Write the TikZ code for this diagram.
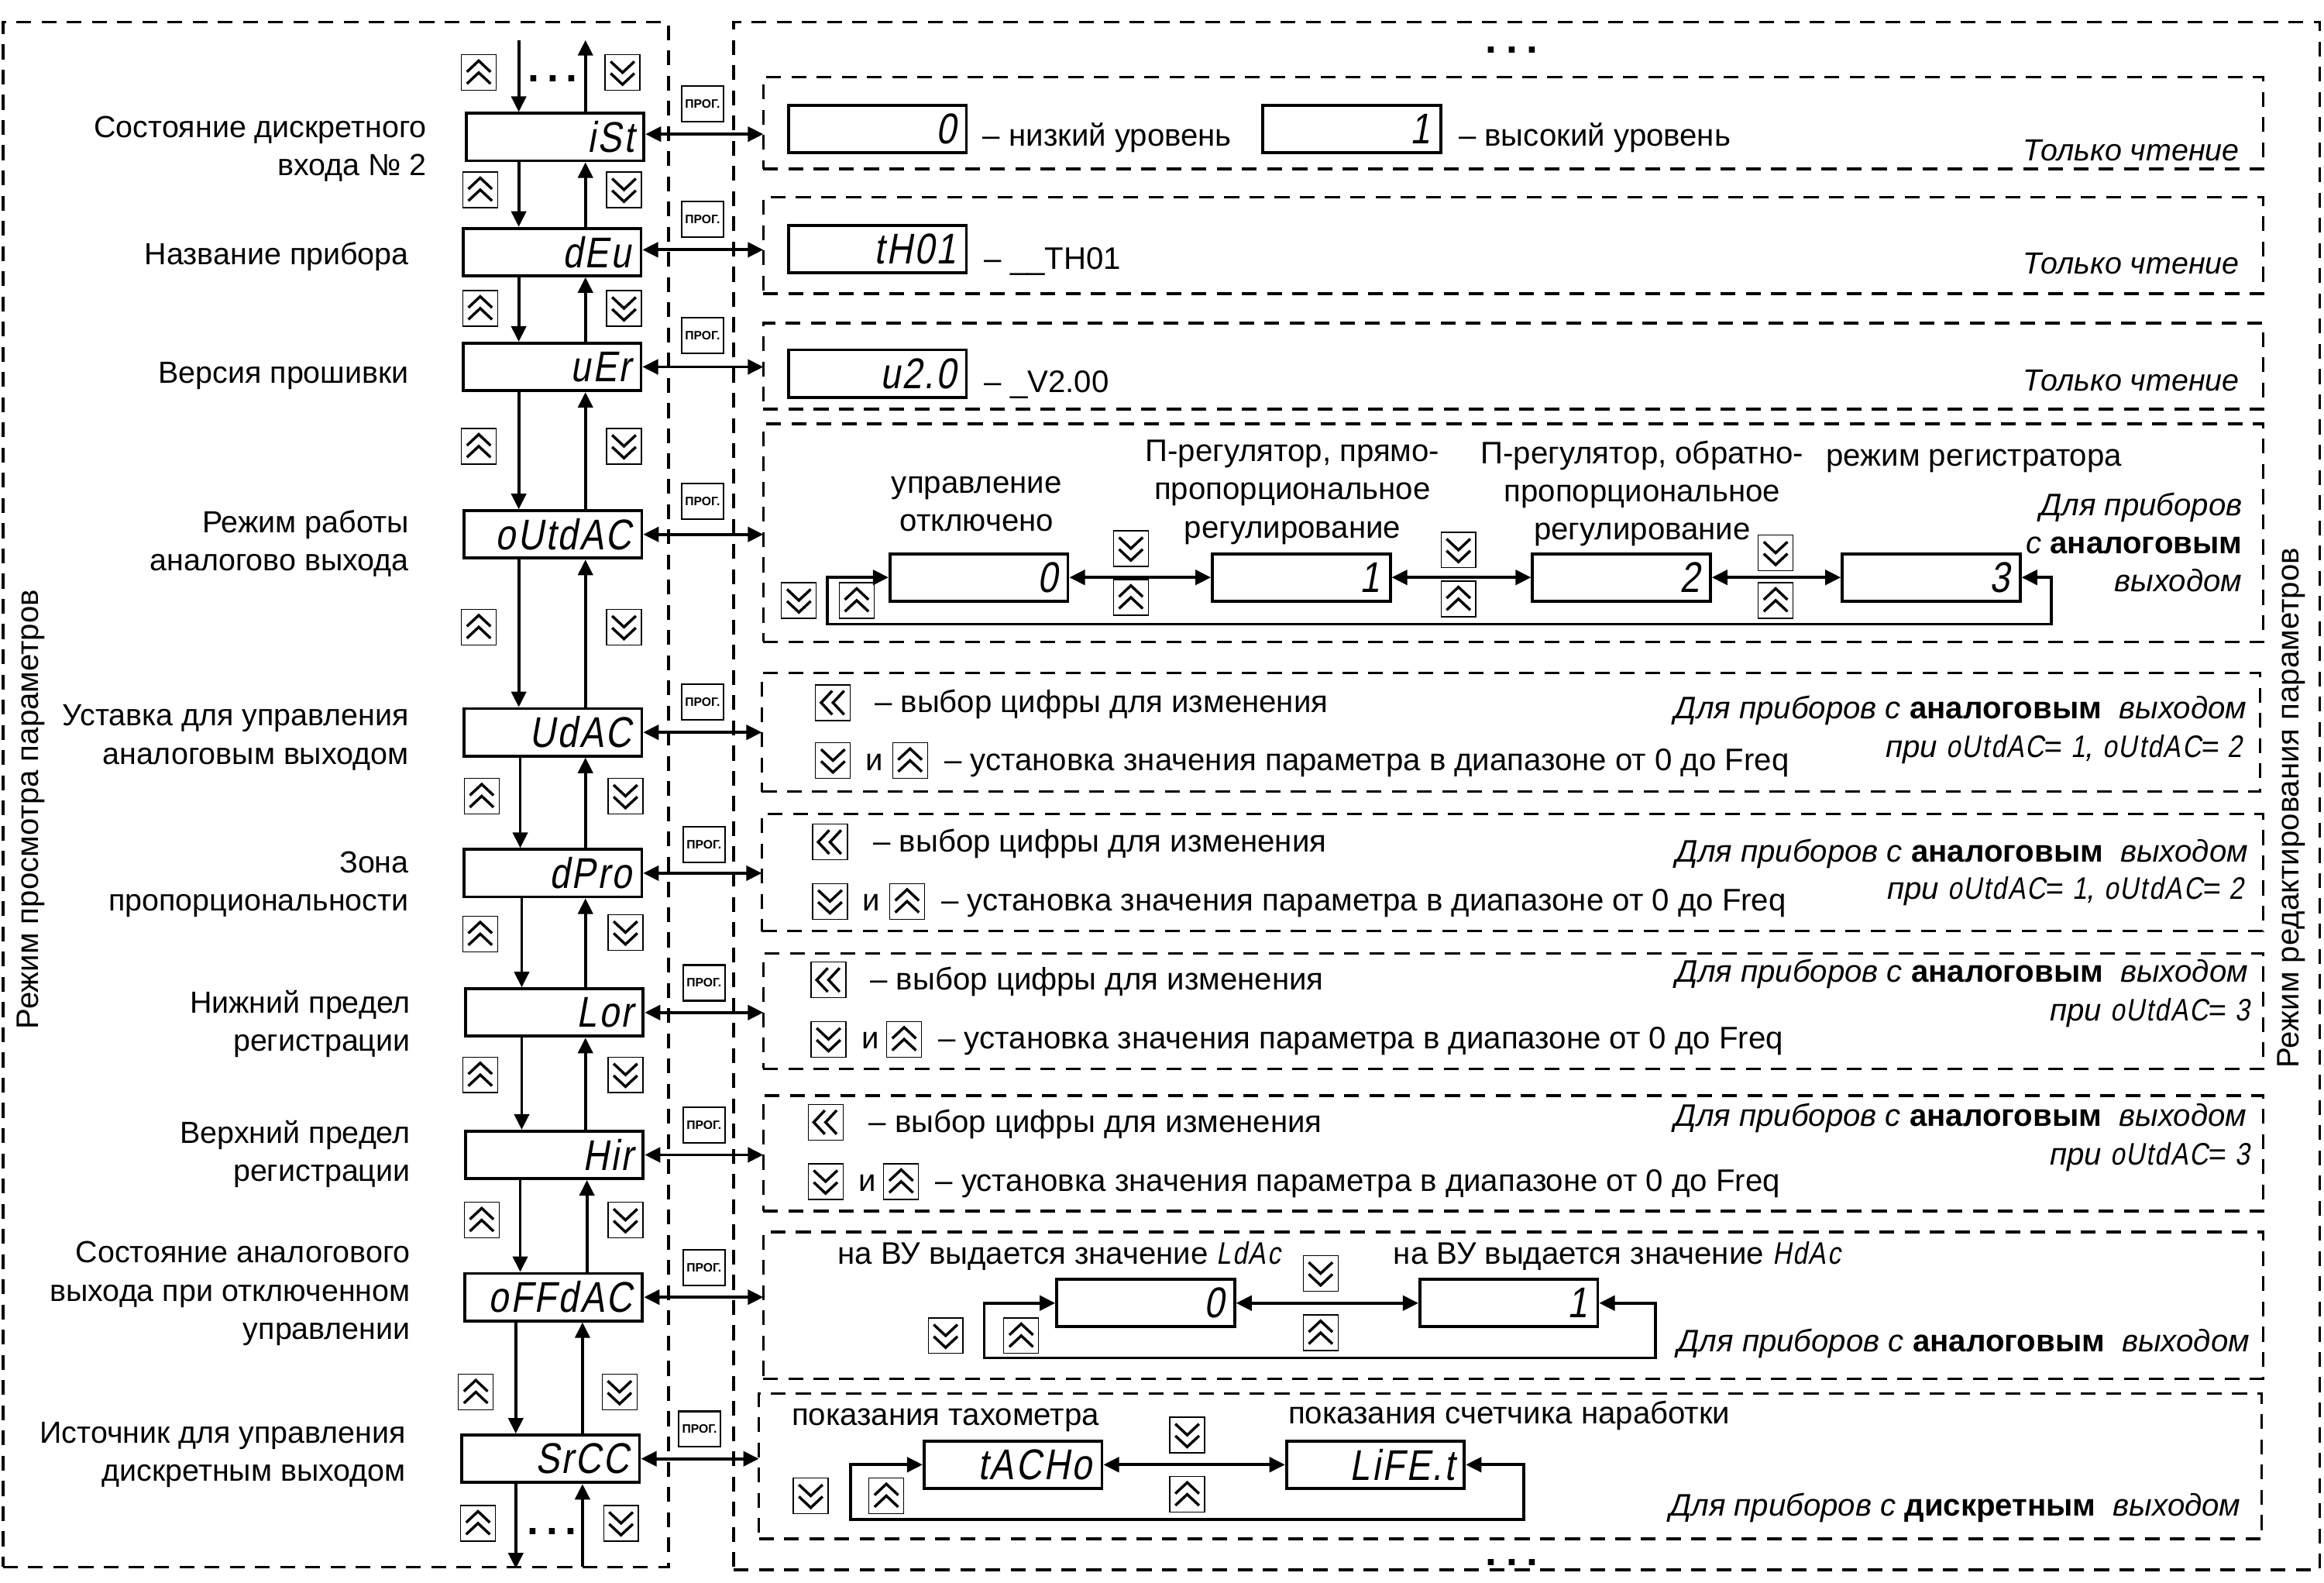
\documentclass[tikz,border=0pt]{standalone}
\usepackage{fontspec}
\setmainfont{Liberation Sans}
\newfontfamily\lcdf[FakeStretch=.83,FakeSlant=.18,LetterSpace=5]{Liberation Sans}
\usetikzlibrary{arrows.meta,fit}
\newcommand\lcdi[1]{{\lcdf\fontsize{21}{21}\selectfont #1}}
\newcommand\txt{\fontsize{21}{25.7}\selectfont}
\newcommand\txl{\fontsize{20.6}{25.7}\selectfont}
\tikzset{
  bigtip/.tip={Triangle[width=10pt,length=10.5pt]},
  arr/.style={line width=2pt,-{bigtip}},
  arrb/.style={line width=2pt,{bigtip}-{bigtip}},
  dashframe/.style={draw,line width=1.8pt,dash pattern=on 10pt off 7pt,inner sep=0pt,outer sep=0pt},
  disp/.style={draw,line width=2pt,minimum width=120pt,minimum height=32pt,text width=106pt,align=flush right,inner sep=0pt,font=\lcdf\fontsize{29}{29}\selectfont},
  keybase/.style={draw,line width=.7pt,minimum width=23.5pt,minimum height=24pt,inner sep=0pt},
  chev/.style={line width=1.8pt,miter limit=10},
  kup/.style={keybase,path picture={\begin{scope}[shift={(path picture bounding box.center)}]
     \draw[chev] (-8,-0.5)--(0,-8)--(8,-0.5); \draw[chev] (-8,7.5)--(0,0)--(8,7.5);\end{scope}}},
  kdn/.style={keybase,path picture={\begin{scope}[shift={(path picture bounding box.center)}]
     \draw[chev] (-8,0.5)--(0,8)--(8,0.5); \draw[chev] (-8,-7.5)--(0,0)--(8,-7.5);\end{scope}}},
  klf/.style={keybase,path picture={\begin{scope}[shift={(path picture bounding box.center)}]
     \draw[chev] (-0.5,-8)--(-8,0)--(-0.5,8); \draw[chev] (7.5,-8)--(0,0)--(7.5,8);\end{scope}}},
  prog/.style={draw,line width=1.1pt,minimum width=28pt,minimum height=24pt,inner sep=0pt,font=\bfseries\fontsize{8.2}{9}\selectfont},
  lb/.style={inner sep=0pt,font=\txt,anchor=mid west,yshift=-4pt},
  lbr/.style={inner sep=0pt,font=\txt,anchor=mid east,yshift=-4pt},
  lbq/.style={inner sep=0pt,font=\txl,anchor=mid east,yshift=-4pt},
  lbm/.style={inner sep=0pt,font=\txt,anchor=center,align=center,yshift=-1pt},
  lbe/.style={inner sep=0pt,font=\txl,anchor=east,align=right,yshift=-1.5pt},
  lbf/.style={inner sep=0pt,font=\txt,anchor=east,align=right},
  dots/.style={inner sep=0pt,anchor=base,font=\bfseries\fontsize{28}{28}\selectfont},
}
\newcommand\frm[5]{\node[dashframe,fit={(#2,#3)(#4,#5)}] (#1) {};}
\newcommand\vlink[4]{%
  \coordinate (xd) at (#3,0); \coordinate (xu) at (#4,0);
  \draw[arr] (xd |- #1.south) -- (xd |- #2.north);
  \draw[arr] (xu |- #2.north) -- (xu |- #1.south);}
\newcommand\anl[1]{\textit{Для приборов с} \textbf{#1}\ \ \textit{выходом}}
\begin{document}
\begin{tikzpicture}[x=1pt,y=-1pt]
\useasboundingbox (0,0) rectangle (1568,1067.3);
% outer frames
\frm{outL}{2}{15}{451}{1057}
\frm{outR}{495}{15}{1565}{1059}
\node[lbm,rotate=90,yshift=1pt] (rotL) at (22,545) {Режим просмотра параметров};
\node[lbm,rotate=90,yshift=1pt] (rotR) at (1547,544) {Режим редактирования параметров};
\node[dots] (dotsT) at (1020,36) {.\hspace{6pt}.\hspace{6pt}.};
\node[dots] (dotsB) at (1020,1056) {.\hspace{6pt}.\hspace{6pt}.};
% sub frames
\frm{f1}{515}{52}{1527}{114}
\frm{f2}{515}{133}{1527}{198}
\frm{f3}{515}{218}{1527}{276}
\frm{f4}{515}{286}{1527}{433}
\frm{f5}{514}{454}{1525}{534}
\frm{f6}{514}{549}{1527}{628}
\frm{f7}{515}{643}{1527}{721}
\frm{f8}{515}{739}{1527}{817}
\frm{f9}{515}{831}{1527}{930}
\frm{f10}{512}{940}{1526}{1038}
% left displays
\node[disp] (a1) at (374.5,92.5) {iSt};
\node[disp] (a2) at (372.5,170) {dEu};
\node[disp] (a3) at (372.5,247.5) {uEr};
\node[disp] (a4) at (373,360.5) {oUtdAC};
\node[disp] (a5) at (373,494) {UdAC};
\node[disp] (a6) at (373,589) {dPro};
\node[disp] (a7) at (374,683) {Lor};
\node[disp] (a8) at (374,779) {Hir};
\node[disp] (a9) at (373.5,875) {oFFdAC};
\node[disp] (a10) at (371.5,984) {SrCC};
% vertical links
\coordinate (tl) at (350,27);
\coordinate (tr) at (395,27);
\coordinate (bl) at (348,1058);
\coordinate (br) at (393,1057);
\draw[arr] (tl) -- (tl |- a1.north);
\draw[arr] (tr |- a1.north) -- (tr);
\vlink{a1}{a2}{350}{395}\vlink{a2}{a3}{350}{395}\vlink{a3}{a4}{350}{395}\vlink{a4}{a5}{350}{395}\vlink{a5}{a6}{351}{395}
\vlink{a6}{a7}{352}{395}\vlink{a7}{a8}{352}{395}\vlink{a8}{a9}{351}{396}\vlink{a9}{a10}{348}{393}
\draw[arr] (bl |- a10.south) -- (bl);
\draw[arr] (br) -- (br |- a10.south);
\node[dots] (dotsL1) at (373,55) {.\hspace{5pt}.\hspace{5pt}.};
\node[dots] (dotsL2) at (372.5,1035) {.\hspace{5pt}.\hspace{5pt}.};
% double arrows to frames
\draw[arrb] ([yshift=2pt]a1.east) -- ([yshift=2pt]a1.east -| f1.west);
\draw[arrb] ([yshift=1.5pt]a2.east) -- ([yshift=1.5pt]a2.east -| f2.west);
\draw[arrb] (a3.east) -- (a3.east -| f3.west);
\draw[arrb] (a4.east) -- (a4.east -| f4.west);
\draw[arrb] (a5.east) -- (a5.east -| f5.west);
\draw[arrb] (a6.east) -- (a6.east -| f6.west);
\draw[arrb] (a7.east) -- (a7.east -| f7.west);
\draw[arrb] (a8.east) -- (a8.east -| f8.west);
\draw[arrb] (a9.east) -- (a9.east -| f9.west);
\draw[arrb] (a10.east) -- (a10.east -| f10.west);
% prog keys
\node[prog] (p1) at (474,70) {ПРОГ.};
\node[prog] (p2) at (474,148) {ПРОГ.};
\node[prog] (p3) at (474,226.5) {ПРОГ.};
\node[prog] (p4) at (474,338) {ПРОГ.};
\node[prog] (p5) at (474,473.5) {ПРОГ.};
\node[prog] (p6) at (475,569.5) {ПРОГ.};
\node[prog] (p7) at (475,663) {ПРОГ.};
\node[prog] (p8) at (475,759) {ПРОГ.};
\node[prog] (p9) at (475,855) {ПРОГ.};
\node[prog] (p10) at (472,964) {ПРОГ.};
% up/down keys on the left
\node[kup] (ku1) at (323,49) {};
\node[kup] (ku2) at (324,128) {};
\node[kup] (ku3) at (324,208) {};
\node[kup] (ku4) at (323,301) {};
\node[kup] (ku5) at (323,423) {};
\node[kup] (ku6) at (325,537) {};
\node[kup] (ku7) at (324,630) {};
\node[kup] (ku8) at (324,725) {};
\node[kup] (ku9) at (325,823) {};
\node[kup] (ku10) at (321,939) {};
\node[kup] (ku11) at (322.5,1027.5) {};
\node[kdn] (kd1) at (420,49) {};
\node[kdn] (kd2) at (421,128) {};
\node[kdn] (kd3) at (421,208) {};
\node[kdn] (kd4) at (421,301) {};
\node[kdn] (kd5) at (421,423) {};
\node[kdn] (kd6) at (422,537) {};
\node[kdn] (kd7) at (422,629) {};
\node[kdn] (kd8) at (422,725) {};
\node[kdn] (kd9) at (422,823) {};
\node[kdn] (kd10) at (418,939) {};
\node[kdn] (kd11) at (419,1027.5) {};
% left labels
\node[lbe] (l1) at (288,99) {Состояние дискретного\\входа № 2};
\node[lbq] (l2) at (276,172) {Название прибора};
\node[lbq] (l3) at (276,252) {Версия прошивки};
\node[lbe] (l4) at (276,365) {Режим работы\\аналогово выхода};
\node[lbe] (l5) at (276,496) {Уставка для управления\\аналоговым выходом};
\node[lbe] (l6) at (276,595) {Зона\\пропорциональности};
\node[lbe] (l7) at (277,689) {Нижний предел\\регистрации};
\node[lbe] (l8) at (277,777) {Верхний предел\\регистрации};
\node[lbe] (l9) at (277,871) {Состояние аналогового\\выхода при отключенном\\управлении};
\node[lbe] (l10) at (274,980) {Источник для управления\\дискретным выходом};
% frame 1
\node[disp] (d1) at (592,87) {0};
\node[lb] (t1a) at (663,92) {– низкий уровень};
\node[disp] (d2) at (912,87) {1};
\node[lb] (t1b) at (984,92) {– высокий уровень};
\node[lbq,font=\txl\itshape] (ro1) at (1511,102) {Только чтение};
% frame 2
\node[disp] (d3) at (592,168) {tH01};
\node[lb] (t2) at (664,175) {– \_\_TH01};
\node[lbq,font=\txl\itshape] (ro2) at (1511,178) {Только чтение};
% frame 3
\node[disp] (d4) at (592,252) {u2.0};
\node[lb] (t3) at (664,258) {– \_V2.00};
\node[lbq,font=\txl\itshape] (ro3) at (1511,257) {Только чтение};
% frame 4
\node[lbm] (t4a) at (659,339) {управление\\отключено};
\node[lbm] (t4b) at (872,331) {П-регулятор, прямо-\\пропорциональное\\регулирование};
\node[lbm] (t4c) at (1108,332) {П-регулятор, обратно-\\пропорциональное\\регулирование};
\node[lb] (t4d) at (1232,308) {режим регистратора};
\node[lbf] (t4e) at (1513,366) {\textit{Для приборов}\\\textit{с} \textbf{аналоговым}\\\textit{выходом}};
\node[disp] (m1) at (660.5,389.5) {0};
\node[disp] (m2) at (878,389.5) {1};
\node[disp] (m3) at (1094,389.5) {2};
\node[disp] (m4) at (1303,389.5) {3};
\draw[arrb] (m1.east) -- (m2.west);
\draw[arrb] (m2.east) -- (m3.west);
\draw[arrb] (m3.east) -- (m4.west);
\coordinate (c4a) at (1384,389.5);
\coordinate (c4b) at (1384,421);
\coordinate (c4c) at (558,421);
\coordinate (c4d) at (558,389.5);
\draw[arrb,line join=miter] (m4.east) -- (c4a) -- (c4b) -- (c4c) -- (c4d) -- (m1.west);
\node[kdn] (k41) at (539,405) {};
\node[kup] (k42) at (578,405) {};
\node[kdn] (k43) at (763,370) {};
\node[kup] (k44) at (763,403) {};
\node[kdn] (k45) at (984,371) {};
\node[kup] (k46) at (984,404) {};
\node[kdn] (k47) at (1198,373) {};
\node[kup] (k48) at (1198,405) {};
% frame 5
\node[klf] (k51) at (562,474) {};
\node[lb] (t51) at (590,474) {– выбор цифры для изменения};
\node[kdn] (k52) at (562,513) {};
\node[lb] (t52) at (584,513) {и};
\node[kup] (k53) at (614,513) {};
\node[lb] (t53) at (637,513) {– установка значения параметра в диапазоне от 0 до Freq};
\node[lbr] (t54) at (1516,478) {\anl{аналоговым}};
\node[lbr] (t55) at (1513,504) {\textit{при} \lcdi{oUtdAC}\textit{=\ }\lcdi{1}\textit{,} \lcdi{oUtdAC}\textit{=} \lcdi{2}};
% frame 6
\node[klf] (k61) at (560,568) {};
\node[lb] (t61) at (589,568) {– выбор цифры для изменения};
\node[kdn] (k62) at (560,608) {};
\node[lb] (t62) at (582,608) {и};
\node[kup] (k63) at (612,608) {};
\node[lb] (t63) at (635,608) {– установка значения параметра в диапазоне от 0 до Freq};
\node[lbr] (t64) at (1517,575) {\anl{аналоговым}};
\node[lbr] (t65) at (1514,600) {\textit{при} \lcdi{oUtdAC}\textit{=\ }\lcdi{1}\textit{,} \lcdi{oUtdAC}\textit{=} \lcdi{2}};
% frame 7
\node[klf] (k71) at (559,661) {};
\node[lb] (t71) at (587,661) {– выбор цифры для изменения};
\node[kdn] (k72) at (559,701) {};
\node[lb] (t72) at (581,701) {и};
\node[kup] (k73) at (610,701) {};
\node[lb] (t73) at (633,701) {– установка значения параметра в диапазоне от 0 до Freq};
\node[lbr] (t74) at (1517,656) {\anl{аналоговым}};
\node[lbr] (t75) at (1518,682) {\textit{при} \lcdi{oUtdAC}\textit{=} \lcdi{3}};
% frame 8
\node[klf] (k81) at (557,757) {};
\node[lb] (t81) at (586,757) {– выбор цифры для изменения};
\node[kdn] (k82) at (557,797) {};
\node[lb] (t82) at (579,797) {и};
\node[kup] (k83) at (608,797) {};
\node[lb] (t83) at (631,797) {– установка значения параметра в диапазоне от 0 до Freq};
\node[lbr] (t84) at (1516,753) {\anl{аналоговым}};
\node[lbr] (t85) at (1518,779) {\textit{при} \lcdi{oUtdAC}\textit{=} \lcdi{3}};
% frame 9
\node[lb] (t91) at (565,846) {на ВУ выдается значение \lcdi{LdAc}};
\node[lb] (t92) at (940,846) {на ВУ выдается значение \lcdi{HdAc}};
\node[disp] (n1) at (773,879) {0};
\node[disp] (n2) at (1018,879) {1};
\draw[arrb] (n1.east) -- (n2.west);
\coordinate (c9a) at (1117,879);
\coordinate (c9b) at (1117,916);
\coordinate (c9c) at (664,916);
\coordinate (c9d) at (664,879);
\draw[arrb,line join=miter] (n2.east) -- (c9a) -- (c9b) -- (c9c) -- (c9d) -- (n1.west);
\node[kdn] (k91) at (891,859) {};
\node[kup] (k92) at (891,899) {};
\node[kdn] (k93) at (638,901) {};
\node[kup] (k94) at (689,901) {};
\node[lbr] (t93) at (1518,905) {\anl{аналоговым}};
% frame 10
\node[lb] (t101) at (534,955) {показания тахометра};
\node[lb] (t102) at (869,954) {показания счетчика наработки};
\node[disp] (q1) at (683.5,988) {tACHo};
\node[disp] (q2) at (928,988) {LiFE.t};
\draw[arrb] (q1.east) -- (q2.west);
\coordinate (c10a) at (1028,988);
\coordinate (c10b) at (1028,1025);
\coordinate (c10c) at (574,1025);
\coordinate (c10d) at (574,988);
\draw[arrb,line join=miter] (q2.east) -- (c10a) -- (c10b) -- (c10c) -- (c10d) -- (q1.west);
\node[kdn] (k101) at (801,968) {};
\node[kup] (k102) at (801,1008) {};
\node[kdn] (k103) at (547,1009) {};
\node[kup] (k104) at (598,1009) {};
\node[lbr] (t103) at (1512,1016) {\anl{дискретным}};
\end{tikzpicture}
\end{document}
